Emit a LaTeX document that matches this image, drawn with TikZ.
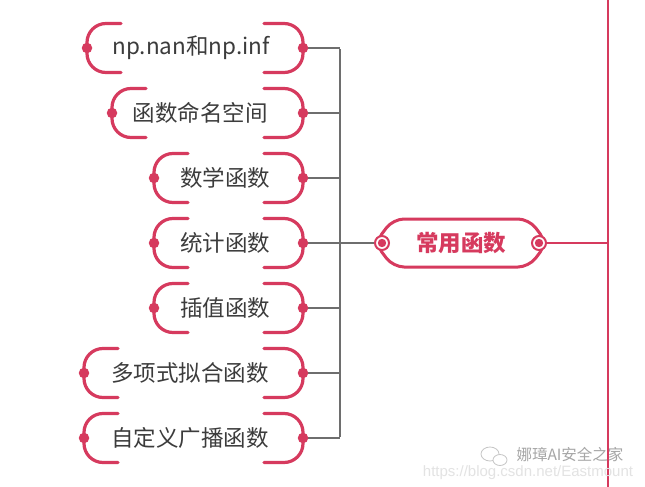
\documentclass[tikz,border=0pt]{standalone}
\usepackage{fontspec}
\newfontfamily\cjk{Noto Sans CJK SC}
\newfontfamily\wmfont{Liberation Sans}
\definecolor{crim}{HTML}{D63A5E}
\definecolor{linegray}{HTML}{6E6E6E}
\definecolor{txtgray}{HTML}{3C3C3C}
\tikzset{
  txt/.style={font=\cjk\fontsize{22.5}{25}\selectfont, text=txtgray, inner sep=0pt},
  ctxt/.style={font=\cjk\bfseries\fontsize{22.5}{25}\selectfont, text=crim, inner sep=0pt},
  kdot/.style={circle, fill=crim, minimum size=10.5pt, inner sep=0pt},
  cdot/.style={circle, draw=crim, line width=2pt, fill=white, minimum size=14pt, inner sep=0pt,
    path picture={\fill[crim] (path picture bounding box.center) circle (4.2pt);}},
  bracket/.style={draw=crim, line width=3.2pt, rounded corners=19pt, line cap=round},
  gl/.style={draw=linegray, line width=2.2pt},
  rl/.style={draw=crim, line width=2.2pt},
  wm/.style={inner sep=0pt}
}
\begin{document}
\begin{tikzpicture}[x=1pt,y=-1pt]
\useasboundingbox[fill=white] (0,0) rectangle (645,487);

% child text nodes
\node[txt] (t1) at (191,48)  {np.nan和np.inf};
\node[txt] (t2) at (200,113) {函数命名空间};
\node[txt] (t3) at (225,178) {数学函数};
\node[txt] (t4) at (225,243) {统计函数};
\node[txt] (t5) at (225,308) {插值函数};
\node[txt] (t6) at (190,373) {多项式拟合函数};
\node[txt] (t7) at (190,438) {自定义广播函数};

% bus coordinates
\foreach \i/\y in {1/48,2/113,3/178,4/243,5/308,6/373,7/438}{
  \coordinate (B\i) at (340,\y);
  \coordinate (R\i) at (303,\y);
}
% gray connectors
\foreach \i in {1,...,7}{ \draw[gl] (R\i) -- (B\i); }
\draw[gl] ([yshift=-1.1pt]B1) -- ([yshift=1.1pt]B7);

% central node
\node[ctxt] (c) at (461,243) {常用函数};
\draw[crim, line width=3pt, rounded corners=11pt]
  (393,219) -- (529,219) -- (547,243) -- (529,267) -- (393,267) -- (375,243) -- cycle;
\coordinate (CLc) at (382,243);
\coordinate (CRc) at (539,243);
\draw[gl] (B4) -- (CLc);
\coordinate (J) at (608,243);
\coordinate (Top) at (608,0);
\coordinate (Bot) at (608,487);
\draw[rl] (CRc) -- (J);
\draw[rl] (Top) -- (Bot);
\node[cdot] (CL) at (CLc) {};
\node[cdot] (CR) at (CRc) {};

% brackets and dots
\foreach \i/\y/\lx in {1/48/87,2/113/112,3/178/154,4/243/154,5/308/154,6/373/84,7/438/84}{
  \draw[bracket] (\lx+34,\y-24.5) -- (\lx,\y-24.5) -- (\lx,\y+24.5) -- (\lx+34,\y+24.5);
  \draw[bracket] (264,\y-24.5) -- (303,\y-24.5) -- (303,\y+24.5) -- (264,\y+24.5);
  \node[kdot] (L\i) at (\lx,\y) {};
  \node[kdot] (RD\i) at (303,\y) {};
}

% watermark
\draw[gray!45, line width=0.8pt, fill=white] (490,454) ellipse (9pt and 7pt);
\draw[gray!45, line width=0.8pt, fill=white] (500,460) ellipse (7pt and 5.5pt);
\node[wm, font=\cjk\fontsize{15.5}{17}\selectfont, text=gray!70] (wm1) at (570,455) {娜璋AI安全之家};
\node[wm, font=\wmfont\fontsize{15}{17}\selectfont, text=gray!22] (wm2) at (528,473) {https://blog.csdn.net/Eastmount};
\end{tikzpicture}
\end{document}
